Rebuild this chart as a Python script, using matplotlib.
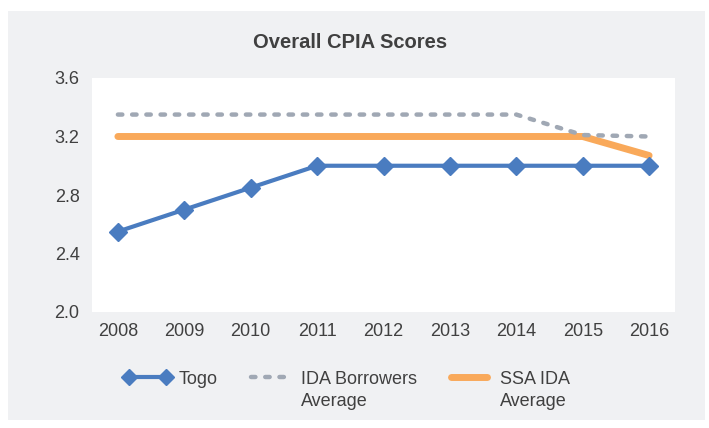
import matplotlib.pyplot as plt
from matplotlib.patches import Rectangle

# Data
years = ['2008', '2009', '2010', '2011', '2012', '2013', '2014', '2015', '2016']
togo = [2.55, 2.70, 2.85, 3.00, 3.00, 3.00, 3.00, 3.00, 3.00]
ida_borrowers = [3.35, 3.35, 3.35, 3.35, 3.35, 3.35, 3.35, 3.21, 3.20]
ssa_ida = [3.20, 3.20, 3.20, 3.20, 3.20, 3.20, 3.20, 3.20, 3.07]
yticks = [2.0, 2.4, 2.8, 3.2, 3.6]

plt.rcParams['font.family'] = ['Liberation Sans', 'DejaVu Sans']
text_color = '#404040'
W, H = 709, 428

fig = plt.figure(figsize=(7.09, 4.28), dpi=100)
fig.patch.set_facecolor('white')
fig.patches.append(Rectangle((8 / W, 1 - 420 / H), 697 / W, 409 / H,
                             transform=fig.transFigure, facecolor='#F0F1F3',
                             edgecolor='none', zorder=-5))

ax = fig.add_axes([92 / W, 1 - 312 / H, 583 / W, 234 / H])
ax.set_zorder(2)
ax.set_facecolor('white')

x = list(range(len(years)))
ax.plot(x, ssa_ida, color='#F9A95A', lw=5, solid_capstyle='round', label='SSA IDA', zorder=2)
ax.plot(x, ida_borrowers, color='#A0A8B4', lw=3.2, ls=(0, (1.0, 2.2)), dash_capstyle='round',
        label='IDA Borrowers', zorder=3)
ax.plot(x, togo, color='#4A7CC0', lw=3, marker='D', ms=9, label='Togo', zorder=4)

ax.set_xlim(-0.39, 8.39)
ax.set_ylim(2.0, 3.6)
ax.set_xticks(x)
ax.set_xticklabels(years)
ax.set_yticks(yticks)
ax.set_yticklabels([f'{v:.1f}' for v in yticks])
ax.tick_params(length=0, labelsize=13, colors=text_color)
ax.tick_params(axis='y', pad=9)
ax.tick_params(axis='x', pad=8)
for s in ax.spines.values():
    s.set_visible(False)

fig.text(350 / W, 1 - 42 / H, 'Overall CPIA Scores', ha='center', va='center',
         fontsize=14.5, fontweight='bold', color=text_color)

handles, labels = ax.get_legend_handles_labels()
order = [2, 1, 0]
leg = fig.legend([handles[i] for i in order], [labels[i] for i in order], ncol=3,
                 loc='center left', bbox_to_anchor=(124 / W, 1 - 379 / H), frameon=False,
                 fontsize=13, handlelength=2.6, handletextpad=0.45, columnspacing=1.55,
                 numpoints=2, markerscale=0.85, labelcolor=text_color, borderaxespad=0,
                 borderpad=0)

# second line of the two-line legend labels, under the first line
fig.canvas.draw()
renderer = fig.canvas.get_renderer()
for t in leg.get_texts()[1:]:
    bb = t.get_window_extent(renderer)
    fig.text(bb.x0 / W, (bb.y0 - 5) / H, 'Average', ha='left', va='top',
             fontsize=13, color=text_color)

fig.savefig('out.png', dpi=100)
